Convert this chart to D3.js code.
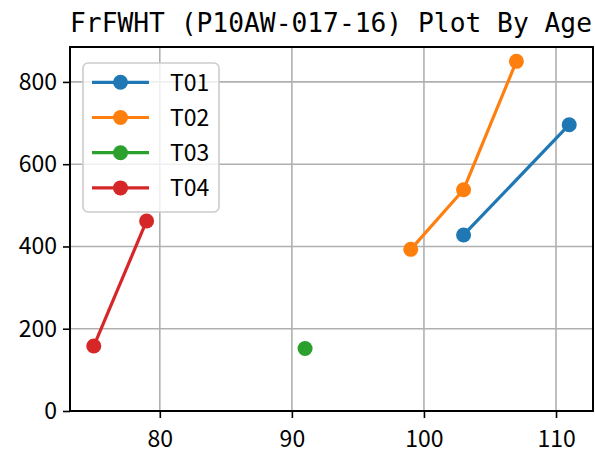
<!DOCTYPE html>
<html>
<head>
<meta charset="utf-8">
<script src="https://cdn.jsdelivr.net/npm/d3@7"></script>
<style>
  html, body { margin: 0; padding: 0; background: #fff; }
  svg { display: block; }
  text { font-family: "Noto Sans CJK JP", "Noto Sans", sans-serif; }
</style>
</head>
<body>
<svg id="chart" width="595" height="455"></svg>
<script>
// ---- data ----
const seriesNames = ["T01", "T02", "T03", "T04"];
const seriesColors = ["#1f77b4", "#ff7f0e", "#2ca02c", "#d62728"];
const agesT01 = [103, 111];
const valuesT01 = [428, 696];
const agesT02 = [99, 103, 107];
const valuesT02 = [393, 538, 850];
const agesT03 = [91];
const valuesT03 = [152];
const agesT04 = [75, 79];
const valuesT04 = [158, 462];
const xTicks = [80, 90, 100, 110];
const yTicks = [0, 200, 400, 600, 800];
const titleText = "FrFWHT (P10AW-017-16) Plot By Age";

const series = [
  { name: seriesNames[0], color: seriesColors[0], pts: agesT01.map((a, i) => [a, valuesT01[i]]) },
  { name: seriesNames[1], color: seriesColors[1], pts: agesT02.map((a, i) => [a, valuesT02[i]]) },
  { name: seriesNames[2], color: seriesColors[2], pts: agesT03.map((a, i) => [a, valuesT03[i]]) },
  { name: seriesNames[3], color: seriesColors[3], pts: agesT04.map((a, i) => [a, valuesT04[i]]) }
];

// ---- layout ----
const pLeft = 70, pRight = 593, pTop = 47, pBottom = 411;
const svg = d3.select("#chart");

const allX = series.flatMap(s => s.pts.map(p => p[0]));
const allY = series.flatMap(s => s.pts.map(p => p[1]));
const xMin = d3.min(allX), xMax = d3.max(allX);
const xPad = (xMax - xMin) * 0.05;
const yMin = d3.min(allY), yMax = d3.max(allY);
const yTopVal = yMax + (yMax - yMin) * 0.05;

const x = d3.scaleLinear().domain([xMin - xPad, xMax + xPad]).range([pLeft, pRight]);
const y = d3.scaleLinear().domain([0, yTopVal]).range([pBottom, pTop]);

// grid
const grid = svg.append("g");
grid.selectAll("line.gx").data(xTicks).enter().append("line")
  .attr("x1", d => x(d)).attr("x2", d => x(d)).attr("y1", pTop).attr("y2", pBottom)
  .attr("stroke", "#b0b0b0").attr("stroke-width", 1.6);
grid.selectAll("line.gy").data(yTicks).enter().append("line")
  .attr("y1", d => y(d)).attr("y2", d => y(d)).attr("x1", pLeft).attr("x2", pRight)
  .attr("stroke", "#b0b0b0").attr("stroke-width", 1.6);

// axes
const xAxis = svg.append("g").attr("transform", `translate(0,${pBottom})`)
  .call(d3.axisBottom(x).tickValues(xTicks).tickSize(7).tickPadding(5).tickFormat(d3.format("d")));
const yAxis = svg.append("g").attr("transform", `translate(${pLeft},0)`)
  .call(d3.axisLeft(y).tickValues(yTicks).tickSize(7).tickPadding(6).tickFormat(d3.format("d")));
[xAxis, yAxis].forEach(g => {
  g.select(".domain").remove();
  g.selectAll(".tick line").attr("stroke", "#000").attr("stroke-width", 1.6);
  g.selectAll(".tick text").attr("font-size", 23).attr("fill", "#000")
    .style("font-family", '"Noto Sans CJK JP", sans-serif');
});
xAxis.selectAll(".tick text").attr("dy", "1.06em");

// frame
svg.append("rect").attr("x", pLeft).attr("y", pTop).attr("width", pRight - pLeft).attr("height", pBottom - pTop)
  .attr("fill", "none").attr("stroke", "#000").attr("stroke-width", 2);

// series
const line = d3.line().x(d => x(d[0])).y(d => y(d[1]));
const plot = svg.append("g");
series.forEach(s => {
  plot.append("path").datum(s.pts).attr("d", line)
    .attr("fill", "none").attr("stroke", s.color).attr("stroke-width", 3.2);
  plot.selectAll(null).data(s.pts).enter().append("circle")
    .attr("cx", d => x(d[0])).attr("cy", d => y(d[1])).attr("r", 7.5).attr("fill", s.color);
});

// legend
const lg = svg.append("g");
lg.append("rect").attr("x", 83).attr("y", 63).attr("width", 136).attr("height", 149)
  .attr("rx", 5).attr("fill", "#fff").attr("fill-opacity", 0.8)
  .attr("stroke", "#cccccc").attr("stroke-width", 1.6);
series.forEach((s, i) => {
  const ly = 82.3 + i * 35.2;
  lg.append("line").attr("x1", 92).attr("x2", 149).attr("y1", ly).attr("y2", ly)
    .attr("stroke", s.color).attr("stroke-width", 3.2);
  lg.append("circle").attr("cx", 120.5).attr("cy", ly).attr("r", 7.5).attr("fill", s.color);
  lg.append("text").attr("x", 170).attr("y", ly).attr("dy", "0.36em")
    .attr("font-size", 23).attr("fill", "#000").text(s.name);
});

// title
svg.append("text").attr("x", 70).attr("y", 32)
  .attr("font-size", 26.3).attr("fill", "#000")
  .style("font-family", '"DejaVu Sans Mono", monospace')
  .attr("textLength", 522).attr("lengthAdjust", "spacingAndGlyphs")
  .text(titleText);
</script>
</body>
</html>
